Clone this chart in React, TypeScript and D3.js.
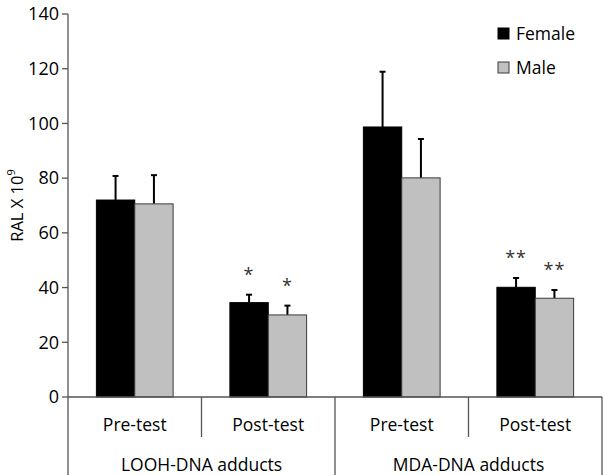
import * as d3 from "d3";

const adducts = ["LOOH-DNA adducts", "MDA-DNA adducts"];
const tests = ["Pre-test", "Post-test"];
const series = ["Female", "Male"];
const femaleMean = [72, 34.5, 98.7, 40.1];
const femaleErr = [8.8, 2.9, 20.2, 3.4];
const maleMean = [70.6, 30, 80.1, 36.1];
const maleErr = [10.5, 3.4, 14.2, 3.0];
const stars = ["", "*", "", "**"];
const yTicks = [0, 20, 40, 60, 80, 100, 120, 140];

const W = 603;
const H = 475;
const left = 68;
const right = 602;
const top = 14;
const base = 397;
const font = "Open Sans, sans-serif";

export default function App() {
  const cats = adducts.flatMap((a) => tests.map((t) => `${a}|${t}`));
  const x = d3.scaleBand<string>().domain(cats).range([left, right]).paddingInner(0).paddingOuter(0);
  const xs = d3.scaleBand<string>().domain(series).range([0, x.bandwidth()]).paddingInner(0).paddingOuter(0.74);
  const y = d3.scaleLinear().domain([0, 140]).range([base, top]);
  const xg = d3.scaleBand<string>().domain(adducts).range([left, right]);

  const bars = cats.flatMap((c, i) => [
    { c, s: "Female", v: femaleMean[i], e: femaleErr[i], fill: "#000000", stroke: "#000000" },
    { c, s: "Male", v: maleMean[i], e: maleErr[i], fill: "#c0c0c0", stroke: "#3a3a3a" },
  ]);

  return (
    <svg width={W} height={H} style={{ position: "absolute", left: 0, top: 0, background: "#fff" }}>
      {/* y axis */}
      <line x1={left} x2={left} y1={top} y2={H} stroke="#555" strokeWidth={1.3} />
      {yTicks.map((t) => (
        <g key={t}>
          <line x1={left - 6} x2={left} y1={y(t)} y2={y(t)} stroke="#555" strokeWidth={1.3} />
          <text x={left - 9} y={y(t)} dy="0.35em" textAnchor="end" fontFamily={font} fontSize={18} fill="#000">
            {t}
          </text>
        </g>
      ))}
      <text
        transform={`translate(23,${(top + base) / 2}) rotate(-90)`}
        textAnchor="middle"
        fontFamily={font}
        fontSize={16.5}
        fill="#000"
      >
        RAL X 10<tspan dy={-8} fontSize={11}>9</tspan>
      </text>

      {/* bars */}
      {bars.map((b, i) => {
        const bx = (x(b.c) ?? 0) + (xs(b.s) ?? 0);
        const cx = bx + xs.bandwidth() / 2;
        return (
          <g key={i}>
            <line x1={cx} x2={cx} y1={y(b.v)} y2={y(b.v + b.e)} stroke="#000" strokeWidth={2} />
            <line x1={cx - 3} x2={cx + 3} y1={y(b.v + b.e)} y2={y(b.v + b.e)} stroke="#000" strokeWidth={2} />
            <rect
              x={bx}
              y={y(b.v)}
              width={xs.bandwidth()}
              height={base - y(b.v)}
              fill={b.fill}
              stroke={b.stroke}
              strokeWidth={1}
            />
          </g>
        );
      })}

      {/* significance marks */}
      {bars.map((b, i) => {
        const st = stars[Math.floor(i / 2)];
        if (!st) return null;
        const cx = (x(b.c) ?? 0) + (xs(b.s) ?? 0) + xs.bandwidth() / 2;
        return (
          <text
            key={`s${i}`}
            x={cx}
            y={y(b.v + b.e) - 14}
            textAnchor="middle"
            fontFamily={font}
            fontSize={18}
            letterSpacing={1}
            fill="#333"
          >
            {st}
          </text>
        );
      })}

      {/* x axis and category table */}
      <line x1={left} x2={right} y1={base} y2={base} stroke="#555" strokeWidth={1.3} />
      <line x1={right} x2={right} y1={base} y2={H} stroke="#555" strokeWidth={1.3} />
      {cats.map((c, i) => {
        const x0 = x(c) ?? 0;
        const isGroupStart = i % 2 === 0;
        return (
          <g key={c}>
            {i > 0 && (
              <line
                x1={x0}
                x2={x0}
                y1={base}
                y2={isGroupStart ? H : 437}
                stroke="#555"
                strokeWidth={1.3}
              />
            )}
            <text
              x={x0 + x.bandwidth() / 2}
              y={425}
              dy="0.35em"
              textAnchor="middle"
              fontFamily={font}
              fontSize={17.5}
              fill="#000"
            >
              {tests[i % 2]}
            </text>
          </g>
        );
      })}
      {adducts.map((a) => (
        <text
          key={a}
          x={(xg(a) ?? 0) + xg.bandwidth() / 2}
          y={465}
          dy="0.35em"
          textAnchor="middle"
          fontFamily={font}
          fontSize={17.5}
          fill="#000"
        >
          {a}
        </text>
      ))}

      {/* legend */}
      {series.map((s, i) => (
        <g key={s} transform={`translate(498,${28 + i * 34})`}>
          <rect
            x={0}
            y={0}
            width={11}
            height={11}
            fill={i === 0 ? "#000" : "#c0c0c0"}
            stroke={i === 0 ? "#000" : "#3a3a3a"}
          />
          <text x={18} y={5.5} dy="0.35em" fontFamily={font} fontSize={17.5} fill="#000">
            {s}
          </text>
        </g>
      ))}
    </svg>
  );
}
